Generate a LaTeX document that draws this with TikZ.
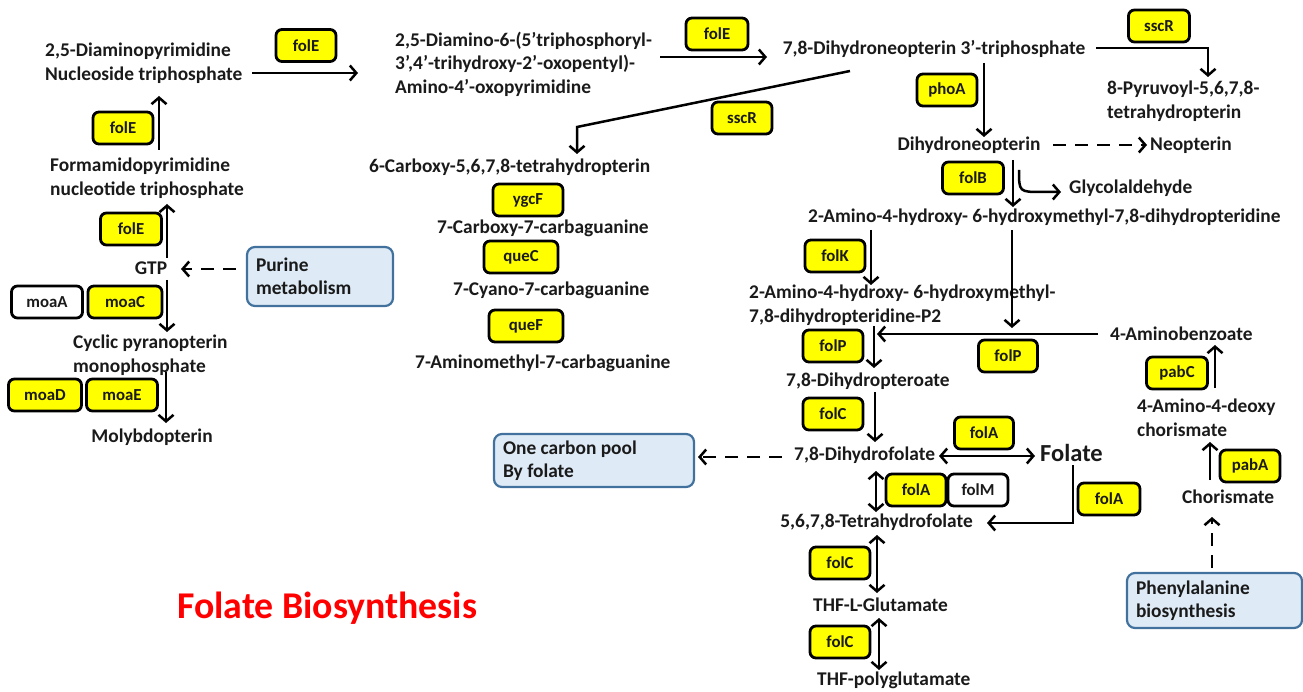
\documentclass[tikz,border=0pt]{standalone}
\usepackage{fontspec}
\setmainfont{Carlito}
\usetikzlibrary{arrows.meta,calc}
\definecolor{enzyellow}{HTML}{FFFF00}
\definecolor{pwfill}{HTML}{DEEBF7}
\definecolor{pwedge}{HTML}{41719C}
\definecolor{txtcol}{HTML}{1A1A1A}
\begin{document}
\begin{tikzpicture}[x=1pt,y=-1pt,
  txt/.style={inner sep=0pt, text=txtcol, font=\bfseries\fontsize{19.4}{23.5}\selectfont, align=flush left},
  enz/.style={draw=black, line width=2.8pt, rounded corners=6pt, fill=enzyellow, inner sep=0pt,
    minimum height=32pt, minimum width=#1pt, font=\bfseries\fontsize{16.8}{18}\selectfont, text=txtcol},
  wenz/.style={enz=#1, fill=white},
  pw/.style={draw=pwedge, line width=2.2pt, rounded corners=8pt, fill=pwfill, inner xsep=9pt, inner ysep=0pt,
    align=flush left, font=\bfseries\fontsize{19.4}{23.5}\selectfont, text=txtcol},
  arr/.style={line width=2.5pt, -{Straight Barb[length=6.5pt,width=15pt]}},
  darr/.style={line width=2.5pt, {Straight Barb[length=6.5pt,width=15pt]}-{Straight Barb[length=6.5pt,width=15pt]}},
  dsh/.style={arr, dash pattern=on 13pt off 9pt}
]
\useasboundingbox (0,0) rectangle (1303,692);

% ---------- left column ----------
\node[txt, anchor=west] (dps) at (45,63) {2,5-Diaminopyrimidine\\Nucleoside triphosphate};
\node[txt, anchor=west] (fapy) at (50,178) {Formamidopyrimidine\\nucleotide triphosphate};
\node[txt] (gtp) at (151,268) {GTP};
\node[txt, anchor=west] (cpmp) at (73,355) {Cyclic pyranopterin\\monophosphate};
\node[txt] (moly) at (152,437) {Molybdopterin};
\node[pw, text width=128pt, minimum height=59pt] (purine) at (320,276.5) {Purine\\metabolism};

\node[enz=60] (eE1) at (306,45.5) {folE};
\node[enz=60] (eE2) at (123,128) {folE};
\node[enz=61] (eE3) at (131,229) {folE};
\node[wenz=71] (eMA) at (47,302) {moaA};
\node[enz=74] (eMC) at (125,302) {moaC};
\node[enz=73] (eMD) at (45,395) {moaD};
\node[enz=71] (eME) at (122,395) {moaE};

% ---------- middle ----------
\node[txt, anchor=west] (dtp) at (395,64) {2,5-Diamino-6-(5’triphosphoryl-\\3’,4’-trihydroxy-2’-oxopentyl)-\\Amino-4’-oxopyrimidine};
\node[txt] (dntp) at (934,49) {7,8-Dihydroneopterin 3’-triphosphate};
\node[txt, anchor=west] (pyr) at (1107,101) {8-Pyruvoyl-5,6,7,8-\\tetrahydropterin};
\node[txt, anchor=west] (ccthp) at (369,167) {6-Carboxy-5,6,7,8-tetrahydropterin};
\node[txt, anchor=west] (cdg) at (437,228) {7-Carboxy-7-carbaguanine};
\node[txt, anchor=west] (preq0) at (453,290) {7-Cyano-7-carbaguanine};
\node[txt, anchor=west] (preq1) at (415,363) {7-Aminomethyl-7-carbaguanine};

\node[enz=62] (eE4) at (717,34) {folE};
\node[enz=61] (eS1) at (1159,26) {sscR};
\node[enz=60] (ePA) at (947,90) {phoA};
\node[enz=60] (eS2) at (742,118) {sscR};
\node[enz=70] (eYG) at (528,200) {ygcF};
\node[enz=74] (eQC) at (521,257) {queC};
\node[enz=74] (eQF) at (526,326) {queF};

% ---------- right ----------
\node[txt] (dhn) at (969,145) {Dihydroneopterin};
\node[txt, anchor=west] (neo) at (1150,145) {Neopterin};
\node[txt, anchor=west] (gly) at (1069,188) {Glycolaldehyde};
\node[txt, anchor=west] (ahmd) at (808,217) {2-Amino-4-hydroxy- 6-hydroxymethyl-7,8-dihydropteridine};
\node[txt, anchor=west] (ahmdp) at (749,305) {2-Amino-4-hydroxy- 6-hydroxymethyl-\\7,8-dihydropteridine-P2};
\node[txt, anchor=west] (pab) at (1110,334) {4-Aminobenzoate};
\node[txt, anchor=west] (dhp) at (786,381) {7,8-Dihydropteroate};
\node[txt, anchor=west] (dhf) at (794,455) {7,8-Dihydrofolate};
\node[txt, anchor=west, font=\bfseries\fontsize{24.5}{28}\selectfont] (fol) at (1040,453) {Folate};
\node[txt, anchor=east] (thf) at (973,522) {5,6,7,8-Tetrahydrofolate};
\node[txt, anchor=west] (thfg) at (813,605) {THF-L-Glutamate};
\node[txt, anchor=west] (thfp) at (817,680) {THF-polyglutamate};
\node[txt, anchor=west] (adc) at (1137,418) {4-Amino-4-deoxy\\chorismate};
\node[txt, anchor=west] (cho) at (1182,497) {Chorismate};
\node[pw, text width=182pt, minimum height=53pt] (onec) at (594,460.5) {One carbon pool\\By folate};
\node[pw, text width=157pt, minimum height=55pt] (phe) at (1214.5,600.5) {Phenylalanine\\biosynthesis};

\node[enz=61] (eFB) at (973,178) {folB};
\node[enz=60] (eFK) at (835,256) {folK};
\node[enz=60] (eFP1) at (833,346) {folP};
\node[enz=59] (eFP2) at (1008,356) {folP};
\node[enz=60] (eFC1) at (833,414) {folC};
\node[enz=59] (eFA1) at (984,433) {folA};
\node[enz=60] (eFA2) at (916,490) {folA};
\node[wenz=60] (eFM) at (978,490) {folM};
\node[enz=62] (eFA3) at (1109,499) {folA};
\node[enz=60] (eFC2) at (840,563) {folC};
\node[enz=60] (eFC3) at (840,642) {folC};
\node[enz=61] (ePC) at (1177,373) {pabC};
\node[enz=60] (ePBA) at (1250,466) {pabA};

\node[txt, anchor=west, text=red, font=\bfseries\fontsize{37.8}{40}\selectfont] (title) at (177,608) {Folate Biosynthesis};

% ---------- connector end points ----------
\coordinate (a1s) at (252,73);   \coordinate (a1e) at (358,73);
\coordinate (a2s) at (159,150);  \coordinate (a2e) at (159,96);
\coordinate (a3s) at (167,258);  \coordinate (a3e) at (167,204);
\coordinate (a4s) at (236,269);  \coordinate (a4e) at (181,269);
\coordinate (a5s) at (167,280);  \coordinate (a5e) at (167,332);
\coordinate (a6s) at (166,372);  \coordinate (a6e) at (166,423);
\coordinate (a7s) at (660,57);   \coordinate (a7e) at (767,57);
\coordinate (a8s) at (1096,48);  \coordinate (a8e) at (1208,77);
\coordinate (a9s) at (984,63);   \coordinate (a9e) at (984,137);
\coordinate (a10s) at (850,71);  \coordinate (a10m) at (577,127); \coordinate (a10e) at (577,154);
\coordinate (a11s) at (1053,145); \coordinate (a11e) at (1147,145);
\coordinate (a12s) at (1013,160); \coordinate (a12e) at (1013,207);
\coordinate (a13s) at (1019,170); \coordinate (a13e) at (1061,192);
\coordinate (a14s) at (871,230); \coordinate (a14e) at (871,285);
\coordinate (a15s) at (1012,230); \coordinate (a15e) at (1012,328);
\coordinate (a16s) at (1098,334); \coordinate (a16e) at (877,334);
\coordinate (a17s) at (874,326); \coordinate (a17e) at (874,368);
\coordinate (a18s) at (875,392); \coordinate (a18e) at (875,442);
\coordinate (a19s) at (782,457); \coordinate (a19e) at (698,457);
\coordinate (a20s) at (939,456); \coordinate (a20e) at (1035,456);
\coordinate (a21s) at (876,471); \coordinate (a21e) at (876,512);
\coordinate (a22s) at (1073,465); \coordinate (a22e) at (987,523);
\coordinate (a23s) at (877,535); \coordinate (a23e) at (877,593);
\coordinate (a24s) at (879,618); \coordinate (a24e) at (879,670);
\coordinate (a25s) at (1210,480); \coordinate (a25e) at (1210,442);
\coordinate (a26s) at (1215,388); \coordinate (a26e) at (1215,345);
\coordinate (a27s) at (1212,568); \coordinate (a27e) at (1212,517);

% ---------- connectors ----------
\draw[arr] (a1s) -- (a1e);
\draw[arr] (a2s) -- (a2e);
\draw[arr] (a3s) -- (a3e);
\draw[dsh] (a4s) -- (a4e);
\draw[arr] (a5s) -- (a5e);
\draw[arr] (a6s) -- (a6e);
\draw[arr] (a7s) -- (a7e);
\draw[arr] (a8s) -| (a8e);
\draw[arr] (a9s) -- (a9e);
\draw[arr] (a10s) -- (a10m) -- (a10e);
\draw[dsh] (a11s) -- (a11e);
\draw[arr] (a12s) -- (a12e);
\draw[arr] (a13s) .. controls (1019,192) .. (1042,192) -- (a13e);
\draw[arr] (a14s) -- (a14e);
\draw[arr] (a15s) -- (a15e);
\draw[arr] (a16s) -- (a16e);
\draw[arr] (a17s) -- (a17e);
\draw[arr] (a18s) -- (a18e);
\draw[dsh] (a19s) -- (a19e);
\draw[darr] (a20s) -- (a20e);
\draw[darr] (a21s) -- (a21e);
\draw[arr] (a22s) |- (a22e);
\draw[darr] (a23s) -- (a23e);
\draw[darr] (a24s) -- (a24e);
\draw[arr] (a25s) -- (a25e);
\draw[arr] (a26s) -- (a26e);
\draw[dsh] (a27s) -- (a27e);
\end{tikzpicture}
\end{document}
